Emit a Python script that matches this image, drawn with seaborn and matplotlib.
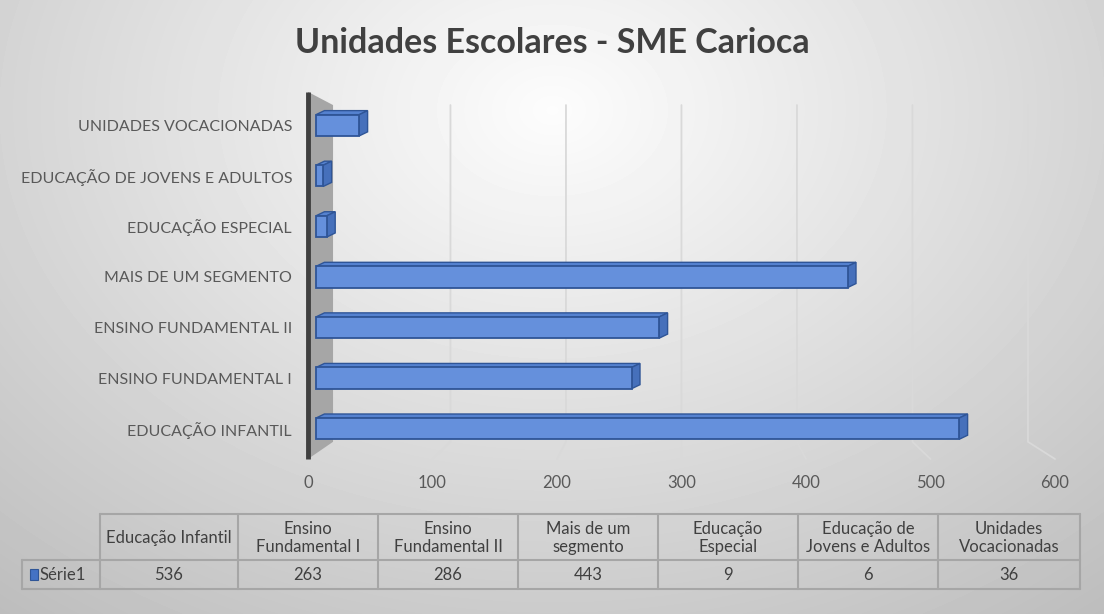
import numpy as np
import pandas as pd
import seaborn as sns
import matplotlib.pyplot as plt
from matplotlib.patches import Polygon, Rectangle

# =========================
# DADOS
# =========================
categorias = ["EDUCAÇÃO INFANTIL", "ENSINO FUNDAMENTAL I", "ENSINO FUNDAMENTAL II",
              "MAIS DE UM SEGMENTO", "EDUCAÇÃO ESPECIAL",
              "EDUCAÇÃO DE JOVENS E ADULTOS", "UNIDADES VOCACIONADAS"]
valores = [536, 263, 286, 443, 9, 6, 36]
rotulos_tabela = ["Educação Infantil", "Ensino\nFundamental I", "Ensino\nFundamental II",
                  "Mais de um\nsegmento", "Educação\nEspecial",
                  "Educação de\nJovens e Adultos", "Unidades\nVocacionadas"]
serie = "Série1"
ticks_x = [0, 100, 200, 300, 400, 500, 600]

df = pd.DataFrame({"categoria": categorias, "valor": valores})

sns.set_theme(style="white")
plt.rcParams['font.family'] = ['Lato', 'DejaVu Sans']

W, H = 1104, 614
fig = plt.figure(figsize=(11.04, 6.14), dpi=100)


def px(x0, y0, x1, y1):
    return [x0 / W, 1 - y1 / H, (x1 - x0) / W, (y1 - y0) / H]


# fundo com gradiente
bg = fig.add_axes([0, 0, 1, 1], zorder=-10)
yy, xx = np.mgrid[0:H, 0:W]
d = np.sqrt(((xx - 552) / 700) ** 2 + ((yy - 110) / 520) ** 2)
shade = np.clip(0.99 - 0.2 * d, 0, 1)
bg.imshow(shade, cmap='gray', vmin=0, vmax=1, extent=[0, W, H, 0], aspect='auto')
bg.set_axis_off()

# =========================
# GRAFICO DE BARRAS (escala das barras, com perspectiva nas grades)
# =========================
ax = fig.add_axes(px(308, 100, 1060, 459))
ax.patch.set_alpha(0)

sns.barplot(data=df, x="valor", y="categoria", order=categorias[::-1], orient="h",
            width=0.42, color="#6590dc", edgecolor="#2f5597", linewidth=1.3,
            saturation=1, ax=ax)

barras = list(ax.patches)
for p in barras:
    p.set_zorder(3)


def frente(t):
    # posicao no piso da frente (onde ficam os rotulos)
    return 1.0375 * t - 6.67


def fundo(t):
    # posicao na parede do fundo
    return 15.8 + 0.9625 * t


ax.set_xticks([frente(t) for t in ticks_x], labels=[str(t) for t in ticks_x])
ax.set_xlim(frente(0), 620)
ax.set_ylim(6.60, -0.5)
ax.tick_params(axis='x', length=0, pad=11.5, labelsize=12, labelcolor='#595959')
ax.tick_params(axis='y', length=0, pad=11.5, labelsize=11.5, labelcolor='#595959')
ax.set_xlabel("")
ax.set_ylabel("")
for s in ax.spines.values():
    s.set_visible(False)
ax.grid(False)

# parede lateral
ax.add_patch(Polygon([(frente(0), -0.66), (fundo(0) - 1.6, -0.40),
                      (fundo(0) - 1.6, 6.26), (frente(0), 6.60)],
                     closed=True, facecolor='#a6a6a6', edgecolor='none',
                     zorder=1, clip_on=False))
ax.plot([frente(0), frente(0)], [-0.66, 6.60], color='#404040', lw=3.5,
        solid_capstyle='butt', clip_on=False, zorder=1.5)

# linhas de grade (parede do fundo + piso)
for t in ticks_x[1:]:
    ax.plot([fundo(t), fundo(t), frente(t)], [-0.40, 6.26, 6.60], color='#d9d9d9',
            lw=1.3, zorder=0.5, clip_on=False)

# faces 3D das barras
dx, dy = 7, -0.08
for p in barras:
    x0, y0 = p.get_x(), p.get_y()
    x1, h = x0 + p.get_width(), p.get_height()
    ax.add_patch(Polygon([(x0, y0), (x0 + dx, y0 + dy), (x1 + dx, y0 + dy), (x1, y0)],
                         closed=True, facecolor='#5582d0', edgecolor='#2f5597',
                         lw=1, zorder=2.9, clip_on=False))
    ax.add_patch(Polygon([(x1, y0), (x1 + dx, y0 + dy), (x1 + dx, y0 + h + dy), (x1, y0 + h)],
                         closed=True, facecolor='#4670bb', edgecolor='#2f5597',
                         lw=1, zorder=2.9, clip_on=False))

# titulo
fig.text(0.5, 1 - 43 / H, "Unidades Escolares - SME Carioca", ha='center', va='center',
         fontsize=24.5, fontweight='bold', color='#404040')

# =========================
# TABELA DE DADOS (desenhada em pixels)
# =========================
tab_ax = fig.add_axes([0, 0, 1, 1])
tab_ax.set_xlim(0, W)
tab_ax.set_ylim(H, 0)
tab_ax.axis('off')

larguras = [138, 140, 140, 140, 140, 140, 142]
xs = np.concatenate([[100], 100 + np.cumsum(larguras)])
y_top, y_mid, y_bot = 514, 560, 589
x_lab = 22
cor_borda = '#a6a6a6'

tab_ax.plot([xs[0], xs[-1]], [y_top, y_top], color=cor_borda, lw=1.5)
tab_ax.plot([x_lab, xs[-1]], [y_mid, y_mid], color=cor_borda, lw=1.5)
tab_ax.plot([x_lab, xs[-1]], [y_bot, y_bot], color=cor_borda, lw=1.5)
tab_ax.plot([x_lab, x_lab], [y_mid, y_bot], color=cor_borda, lw=1.5)
for x in xs:
    tab_ax.plot([x, x], [y_top, y_bot], color=cor_borda, lw=1.5)

for i, (rot, v) in enumerate(zip(rotulos_tabela, valores)):
    xc = (xs[i] + xs[i + 1]) / 2
    tab_ax.text(xc, (y_top + y_mid) / 2 + 1, rot, ha='center', va='center',
                fontsize=12, color='#404040', linespacing=1.1)
    tab_ax.text(xc, (y_mid + y_bot) / 2 + 1, str(v), ha='center', va='center',
                fontsize=12, color='#404040')

tab_ax.add_patch(Rectangle((30, 569), 8, 11, facecolor='#4472c4',
                           edgecolor='#2f5597', lw=0.8))
tab_ax.text(40, (y_mid + y_bot) / 2 + 1, serie, ha='left', va='center',
            fontsize=12, color='#404040')

fig.savefig("out.png", dpi=100)
